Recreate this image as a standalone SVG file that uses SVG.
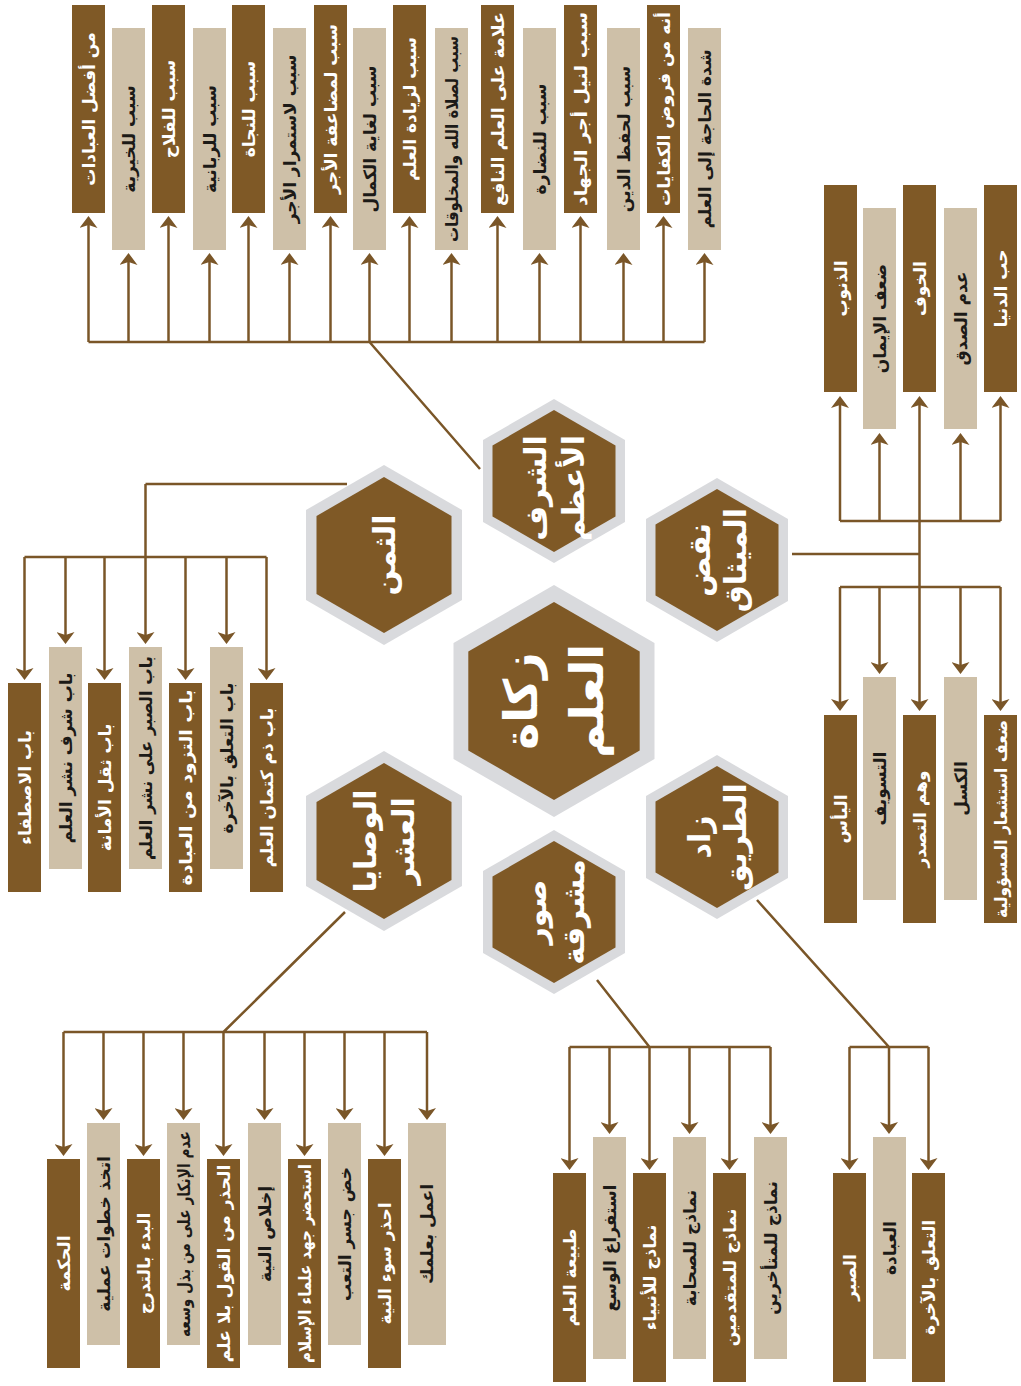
<svg xmlns="http://www.w3.org/2000/svg" width="1021" height="1386" viewBox="0 0 1021 1386">
<defs>
<marker id="ah" viewBox="0 0 12 18" markerWidth="12" markerHeight="18" refX="6" refY="9" orient="auto" markerUnits="userSpaceOnUse">
<path d="M0,0 L12,9 L0,18 L3,9 z" fill="#7a5628"/>
</marker>
<style>
.dk{fill:#7f5926}
.lt{fill:#cec0a8}
.ring{fill:#d9dadd}
.hx{fill:#7f5926}
.ln{stroke:#7a5628;stroke-width:2.5;fill:none}
.ar{stroke:#7a5628;stroke-width:2.5;fill:none;marker-end:url(#ah)}
text{font-family:"DejaVu Sans",sans-serif;font-weight:bold;text-anchor:middle;dominant-baseline:central}
.tw{fill:#ffffff;font-size:17px}
.tb{fill:#1c1a17;font-size:17px}
.hw{fill:#ffffff;font-size:30px}
.hc{fill:#ffffff;font-size:46px}
</style>
</defs>
<rect width="1021" height="1386" fill="#ffffff"/>

<g id="connectors">
<path class="ln" d="M88.5,342 H704.5 M369.5,342 L480,469"/>
<path class="ar" d="M88.5,342 V222"/>
<path class="ar" d="M128.5,342 V259"/>
<path class="ar" d="M168.5,342 V222"/>
<path class="ar" d="M209.5,342 V259"/>
<path class="ar" d="M248.5,342 V222"/>
<path class="ar" d="M289.5,342 V259"/>
<path class="ar" d="M330.5,342 V222"/>
<path class="ar" d="M369.5,342 V259"/>
<path class="ar" d="M409.5,342 V222"/>
<path class="ar" d="M451.5,342 V259"/>
<path class="ar" d="M497.5,342 V222"/>
<path class="ar" d="M539.5,342 V259"/>
<path class="ar" d="M580.5,342 V222"/>
<path class="ar" d="M623.5,342 V259"/>
<path class="ar" d="M663.5,342 V222"/>
<path class="ar" d="M704.5,342 V259"/>
<path class="ln" d="M792,554 H919.5 M840,521 H1000.5 M840,587 H1000.5"/>
<path class="ar" d="M919.5,554 V402"/>
<path class="ar" d="M919.5,554 V705"/>
<path class="ar" d="M840,521 V402"/>
<path class="ar" d="M879.5,521 V439"/>
<path class="ar" d="M960.5,521 V439"/>
<path class="ar" d="M1000.5,521 V402"/>
<path class="ar" d="M840,587 V705"/>
<path class="ar" d="M879.5,587 V668"/>
<path class="ar" d="M960.5,587 V668"/>
<path class="ar" d="M1000.5,587 V705"/>
<path class="ln" d="M347,484 H145.5 M24.5,557 H266.5"/>
<path class="ar" d="M145.5,484 V638"/>
<path class="ar" d="M24.5,557 V674"/>
<path class="ar" d="M65.5,557 V638"/>
<path class="ar" d="M104.5,557 V674"/>
<path class="ar" d="M185.5,557 V674"/>
<path class="ar" d="M226.5,557 V638"/>
<path class="ar" d="M266.5,557 V674"/>
<path class="ln" d="M63.5,1032 H427 M345,912 L223.5,1032"/>
<path class="ar" d="M63.5,1032 V1150"/>
<path class="ar" d="M103.5,1032 V1114"/>
<path class="ar" d="M143.5,1032 V1150"/>
<path class="ar" d="M183.5,1032 V1114"/>
<path class="ar" d="M223.5,1032 V1150"/>
<path class="ar" d="M264.5,1032 V1114"/>
<path class="ar" d="M304.5,1032 V1150"/>
<path class="ar" d="M344.5,1032 V1114"/>
<path class="ar" d="M384.5,1032 V1150"/>
<path class="ar" d="M427,1032 V1114"/>
<path class="ln" d="M569.5,1047 H770.5 M597,980 L649.5,1047"/>
<path class="ar" d="M569.5,1047 V1164"/>
<path class="ar" d="M609.5,1047 V1128"/>
<path class="ar" d="M649.5,1047 V1164"/>
<path class="ar" d="M689.5,1047 V1128"/>
<path class="ar" d="M729.5,1047 V1164"/>
<path class="ar" d="M770.5,1047 V1128"/>
<path class="ln" d="M849.5,1047 H928.5 M757,900 L889,1047"/>
<path class="ar" d="M849.5,1047 V1164"/>
<path class="ar" d="M889,1047 V1128"/>
<path class="ar" d="M928.5,1047 V1164"/>
</g>

<g id="hex-center">
<polygon class="ring" points="554,585 654.5,643 654.5,759 554,817 453.5,759 453.5,643"/>
<polygon class="hx" points="554,602 639.7,651.5 639.7,750.5 554,800 468.3,750.5 468.3,651.5"/>
<g transform="translate(554,701) rotate(-90)"><text class="hc" y="-33">زكاة</text><text class="hc" y="33">العلم</text></g>
</g>
<g id="hex-top">
<polygon class="ring" points="554,399 625,440 625,522 554,563 483,522 483,440"/>
<polygon class="hx" points="554,410 615.5,445.5 615.5,516.5 554,552 492.5,516.5 492.5,445.5"/>
<g transform="translate(554,488) rotate(-90)"><text class="hw" y="-19">الشرف</text><text class="hw" y="19">الأعظم</text></g>
</g>
<g id="hex-left-top">
<polygon class="ring" points="384,465 462,510 462,600 384,645 306,600 306,510"/>
<polygon class="hx" points="384,477 451.5,516 451.5,594 384,633 316.5,594 316.5,516"/>
<g transform="translate(384,555) rotate(-90)"><text class="hw" y="0">الثمن</text></g>
</g>
<g id="hex-right-top">
<polygon class="ring" points="717,478 788,519 788,601 717,642 646,601 646,519"/>
<polygon class="hx" points="717,489 778.5,524.5 778.5,595.5 717,631 655.5,595.5 655.5,524.5"/>
<g transform="translate(717,560) rotate(-90)"><text class="hw" y="-18">نقض</text><text class="hw" y="18">الميثاق</text></g>
</g>
<g id="hex-left-bottom">
<polygon class="ring" points="384,751 462,796 462,886 384,931 306,886 306,796"/>
<polygon class="hx" points="384,763 451.5,802 451.5,880 384,919 316.5,880 316.5,802"/>
<g transform="translate(384,841) rotate(-90)"><text class="hw" y="-19">الوصايا</text><text class="hw" y="19">العشر</text></g>
</g>
<g id="hex-bottom">
<polygon class="ring" points="554,830 625,871 625,953 554,994 483,953 483,871"/>
<polygon class="hx" points="554,841 615.5,876.5 615.5,947.5 554,983 492.5,947.5 492.5,876.5"/>
<g transform="translate(554,912) rotate(-90)"><text class="hw" y="-19">صور</text><text class="hw" y="19">مشرقة</text></g>
</g>
<g id="hex-right-bottom">
<polygon class="ring" points="717,755 788,796 788,878 717,919 646,878 646,796"/>
<polygon class="hx" points="717,766 778.5,801.5 778.5,872.5 717,908 655.5,872.5 655.5,801.5"/>
<g transform="translate(717,837) rotate(-90)"><text class="hw" y="-18">زاد</text><text class="hw" y="18">الطريق</text></g>
</g>

<g id="t1"><rect class="dk" x="72" y="5" width="33" height="208"/><text class="tw" transform="translate(88.5,109) rotate(-90)">من أفضل العبادات</text></g>
<g id="t2"><rect class="lt" x="112" y="28" width="33" height="222"/><text class="tb" transform="translate(128.5,139) rotate(-90)">سبب للخيرية</text></g>
<g id="t3"><rect class="dk" x="152" y="5" width="33" height="208"/><text class="tw" transform="translate(168.5,109) rotate(-90)">سبب للفلاح</text></g>
<g id="t4"><rect class="lt" x="193" y="28" width="33" height="222"/><text class="tb" transform="translate(209.5,139) rotate(-90)">سبب للربانية</text></g>
<g id="t5"><rect class="dk" x="232" y="5" width="33" height="208"/><text class="tw" transform="translate(248.5,109) rotate(-90)">سبب للنجاة</text></g>
<g id="t6"><rect class="lt" x="273" y="28" width="33" height="222"/><text class="tb" transform="translate(289.5,139) rotate(-90)">سبب لاستمرار الأجر</text></g>
<g id="t7"><rect class="dk" x="314" y="5" width="33" height="208"/><text class="tw" transform="translate(330.5,109) rotate(-90)">سبب لمضاعفة الأجر</text></g>
<g id="t8"><rect class="lt" x="353" y="28" width="33" height="222"/><text class="tb" transform="translate(369.5,139) rotate(-90)">سبب لغاية الكمال</text></g>
<g id="t9"><rect class="dk" x="393" y="5" width="33" height="208"/><text class="tw" transform="translate(409.5,109) rotate(-90)">سبب لزيادة العلم</text></g>
<g id="t10"><rect class="lt" x="435" y="28" width="33" height="222"/><text class="tb" transform="translate(451.5,139) rotate(-90)" textLength="206" lengthAdjust="spacingAndGlyphs">سبب لصلاة الله والمخلوقات</text></g>
<g id="t11"><rect class="dk" x="481" y="5" width="33" height="208"/><text class="tw" transform="translate(497.5,109) rotate(-90)" textLength="194" lengthAdjust="spacingAndGlyphs">علامة على العلم النافع</text></g>
<g id="t12"><rect class="lt" x="523" y="28" width="33" height="222"/><text class="tb" transform="translate(539.5,139) rotate(-90)">سبب للنضارة</text></g>
<g id="t13"><rect class="dk" x="564" y="5" width="33" height="208"/><text class="tw" transform="translate(580.5,109) rotate(-90)" textLength="194" lengthAdjust="spacingAndGlyphs">سبب لنيل أجر الجهاد</text></g>
<g id="t14"><rect class="lt" x="607" y="28" width="33" height="222"/><text class="tb" transform="translate(623.5,139) rotate(-90)">سبب لحفظ الدين</text></g>
<g id="t15"><rect class="dk" x="647" y="5" width="33" height="208"/><text class="tw" transform="translate(663.5,109) rotate(-90)" textLength="194" lengthAdjust="spacingAndGlyphs">أنه من فروض الكفايات</text></g>
<g id="t16"><rect class="lt" x="688" y="28" width="33" height="222"/><text class="tb" transform="translate(704.5,139) rotate(-90)">شدة الحاجة إلى العلم</text></g>

<g id="r1"><rect class="dk" x="824" y="185" width="33" height="207"/><text class="tw" transform="translate(840.5,288.5) rotate(-90)">الذنوب</text></g>
<g id="r2"><rect class="lt" x="863" y="208" width="33" height="221"/><text class="tb" transform="translate(879.5,318.5) rotate(-90)">ضعف الإيمان</text></g>
<g id="r3"><rect class="dk" x="903" y="185" width="33" height="207"/><text class="tw" transform="translate(919.5,288.5) rotate(-90)">الخوف</text></g>
<g id="r4"><rect class="lt" x="944" y="208" width="33" height="221"/><text class="tb" transform="translate(960.5,318.5) rotate(-90)">عدم الصدق</text></g>
<g id="r5"><rect class="dk" x="984" y="185" width="33" height="207"/><text class="tw" transform="translate(1000.5,288.5) rotate(-90)">حب الدنيا</text></g>

<g id="r6"><rect class="dk" x="824" y="715" width="33" height="208"/><text class="tw" transform="translate(840.5,819) rotate(-90)">اليأس</text></g>
<g id="r7"><rect class="lt" x="863" y="677" width="33" height="223"/><text class="tb" transform="translate(879.5,788.5) rotate(-90)">التسويف</text></g>
<g id="r8"><rect class="dk" x="903" y="715" width="33" height="208"/><text class="tw" transform="translate(919.5,819) rotate(-90)">وهم التصدر</text></g>
<g id="r9"><rect class="lt" x="944" y="677" width="33" height="223"/><text class="tb" transform="translate(960.5,788.5) rotate(-90)">الكسل</text></g>
<g id="r10"><rect class="dk" x="984" y="715" width="33" height="208"/><text class="tw" transform="translate(1000.5,819) rotate(-90)" textLength="198" lengthAdjust="spacingAndGlyphs">ضعف استشعار المسؤولية</text></g>

<g id="l1"><rect class="dk" x="8" y="683" width="33" height="209"/><text class="tw" transform="translate(24.5,787.5) rotate(-90)">باب الاصطفاء</text></g>
<g id="l2"><rect class="lt" x="49" y="647" width="33" height="222"/><text class="tb" transform="translate(65.5,758) rotate(-90)">باب شرف نشر العلم</text></g>
<g id="l3"><rect class="dk" x="88" y="683" width="33" height="209"/><text class="tw" transform="translate(104.5,787.5) rotate(-90)">باب ثقل الأمانة</text></g>
<g id="l4"><rect class="lt" x="129" y="647" width="33" height="222"/><text class="tb" transform="translate(145.5,758) rotate(-90)" textLength="204" lengthAdjust="spacingAndGlyphs">باب الصبر على نشر العلم</text></g>
<g id="l5"><rect class="dk" x="169" y="683" width="33" height="209"/><text class="tw" transform="translate(185.5,787.5) rotate(-90)" textLength="196" lengthAdjust="spacingAndGlyphs">باب التزود من العبادة</text></g>
<g id="l6"><rect class="lt" x="210" y="647" width="33" height="222"/><text class="tb" transform="translate(226.5,758) rotate(-90)">باب التعلق بالآخرة</text></g>
<g id="l7"><rect class="dk" x="250" y="683" width="33" height="209"/><text class="tw" transform="translate(266.5,787.5) rotate(-90)">باب ذم كتمان العلم</text></g>

<g id="b1"><rect class="dk" x="47" y="1159" width="33" height="209"/><text class="tw" transform="translate(63.5,1263.5) rotate(-90)">الحكمة</text></g>
<g id="b2"><rect class="lt" x="87" y="1123" width="33" height="222"/><text class="tb" transform="translate(103.5,1234) rotate(-90)">اتخذ خطوات عملية</text></g>
<g id="b3"><rect class="dk" x="127" y="1159" width="33" height="209"/><text class="tw" transform="translate(143.5,1263.5) rotate(-90)">البدء بالتدرج</text></g>
<g id="b4"><rect class="lt" x="167" y="1123" width="33" height="222"/><text class="tb" transform="translate(183.5,1234) rotate(-90)" textLength="206" lengthAdjust="spacingAndGlyphs">عدم الإنكار على من بذل وسعه</text></g>
<g id="b5"><rect class="dk" x="207" y="1159" width="33" height="209"/><text class="tw" transform="translate(223.5,1263.5) rotate(-90)" textLength="198" lengthAdjust="spacingAndGlyphs">الحذر من القول بلا علم</text></g>
<g id="b6"><rect class="lt" x="248" y="1123" width="33" height="222"/><text class="tb" transform="translate(264.5,1234) rotate(-90)">إخلاص النية</text></g>
<g id="b7"><rect class="dk" x="288" y="1159" width="33" height="209"/><text class="tw" transform="translate(304.5,1263.5) rotate(-90)" textLength="199" lengthAdjust="spacingAndGlyphs">استحضر جهد علماء الإسلام</text></g>
<g id="b8"><rect class="lt" x="328" y="1123" width="33" height="222"/><text class="tb" transform="translate(344.5,1234) rotate(-90)">خض جسر التعب</text></g>
<g id="b9"><rect class="dk" x="368" y="1159" width="33" height="209"/><text class="tw" transform="translate(384.5,1263.5) rotate(-90)">احذر سوء النية</text></g>
<g id="b10"><rect class="lt" x="408" y="1123" width="38" height="222"/><text class="tb" transform="translate(427,1234) rotate(-90)">اعمل بعلمك</text></g>

<g id="m1"><rect class="dk" x="553" y="1173" width="33" height="209"/><text class="tw" transform="translate(569.5,1277.5) rotate(-90)">طبيعة العلم</text></g>
<g id="m2"><rect class="lt" x="593" y="1137" width="33" height="222"/><text class="tb" transform="translate(609.5,1248) rotate(-90)">استفراغ الوسع</text></g>
<g id="m3"><rect class="dk" x="633" y="1173" width="33" height="209"/><text class="tw" transform="translate(649.5,1277.5) rotate(-90)">نماذج للأنبياء</text></g>
<g id="m4"><rect class="lt" x="673" y="1137" width="33" height="222"/><text class="tb" transform="translate(689.5,1248) rotate(-90)">نماذج للصحابة</text></g>
<g id="m5"><rect class="dk" x="713" y="1173" width="33" height="209"/><text class="tw" transform="translate(729.5,1277.5) rotate(-90)">نماذج للمتقدمين</text></g>
<g id="m6"><rect class="lt" x="754" y="1137" width="33" height="222"/><text class="tb" transform="translate(770.5,1248) rotate(-90)">نماذج للمتأخرين</text></g>

<g id="z1"><rect class="dk" x="833" y="1173" width="33" height="209"/><text class="tw" transform="translate(849.5,1277.5) rotate(-90)">الصبر</text></g>
<g id="z2"><rect class="lt" x="873" y="1137" width="33" height="222"/><text class="tb" transform="translate(889.5,1248) rotate(-90)">العبادة</text></g>
<g id="z3"><rect class="dk" x="912" y="1173" width="33" height="209"/><text class="tw" transform="translate(928.5,1277.5) rotate(-90)">التعلق بالآخرة</text></g>
</svg>
